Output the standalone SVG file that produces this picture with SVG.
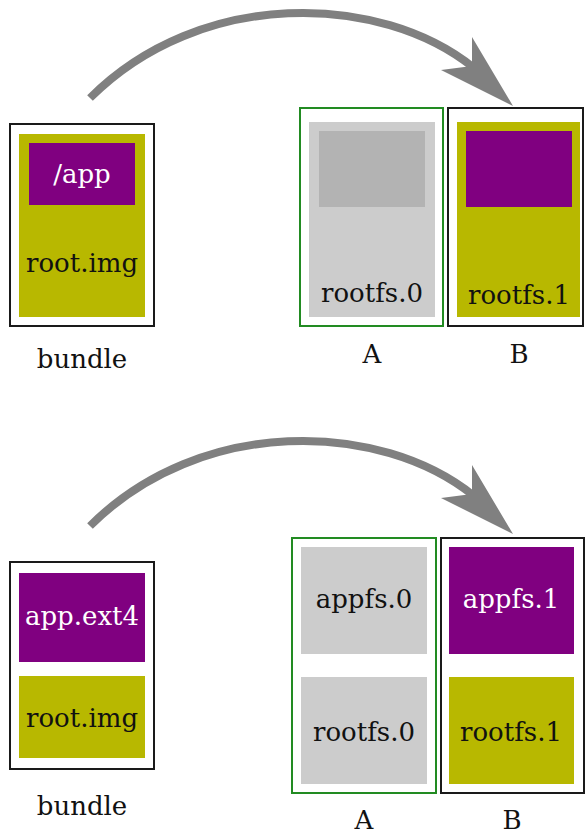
<svg xmlns="http://www.w3.org/2000/svg" width="585" height="834" viewBox="0 0 585 834">
  <style>
    .frame { fill: #ffffff; stroke: #1a1a1a; stroke-width: 2; }
    .slotA { fill: #ffffff; stroke: #228b22; stroke-width: 2; }
    .olive { fill: #b8b800; }
    .purple { fill: #800080; }
    .grey { fill: #cccccc; }
    .grey2 { fill: #b3b3b3; }
    text { font-family: "DejaVu Serif", "Liberation Serif", serif; font-size: 26px; text-anchor: middle; fill: #111111; }
    text.light { fill: #ffffff; }
    .arc { fill: none; stroke: #808080; stroke-width: 8; }
    .head { fill: #808080; }
  </style>
  <defs>
    <!-- curved transfer arrow, bundle to slot B -->
    <g id="transfer">
      <path class="arc" d="M 90 98 C 200 -12, 380 -8, 474 68"/>
      <polygon class="head" points="513,106 472,37 472,66 441,70"/>
    </g>
  </defs>

  <!-- connectors -->
  <g id="connectors">
    <use href="#transfer"/>
    <use href="#transfer" transform="translate(0,428)"/>
  </g>

  <!-- top: single root image -->
  <g id="bundle-top">
    <rect class="frame" x="10" y="124" width="144" height="202"/>
    <rect class="olive" x="19" y="134" width="126" height="183"/>
    <rect class="purple" x="29" y="143" width="106" height="62"/>
    <text class="light" x="82" y="183">/app</text>
    <text x="82" y="272">root.img</text>
    <text x="82" y="368">bundle</text>
  </g>

  <g id="slot-a-top">
    <rect class="slotA" x="300" y="108" width="143" height="218"/>
    <rect class="grey" x="309" y="122" width="126" height="195"/>
    <rect class="grey2" x="319" y="131" width="106" height="76"/>
    <text x="372" y="302">rootfs.0</text>
    <text x="372" y="363">A</text>
  </g>

  <g id="slot-b-top">
    <rect class="frame" x="448" y="108" width="135" height="218"/>
    <rect class="olive" x="457" y="122" width="123" height="195"/>
    <rect class="purple" x="466" y="131" width="106" height="76"/>
    <text x="519" y="304">rootfs.1</text>
    <text x="519" y="363">B</text>
  </g>

  <!-- bottom: separate app partition -->
  <g id="bundle-bottom">
    <rect class="frame" x="10" y="562" width="144" height="207"/>
    <rect class="purple" x="19" y="573" width="126" height="89"/>
    <text class="light" x="82" y="625">app.ext4</text>
    <rect class="olive" x="19" y="676" width="126" height="82"/>
    <text x="82" y="727">root.img</text>
    <text x="82" y="815">bundle</text>
  </g>

  <g id="slot-a-bottom">
    <rect class="slotA" x="292" y="538" width="144" height="255"/>
    <rect class="grey" x="301" y="547" width="126" height="107"/>
    <text x="364" y="608">appfs.0</text>
    <rect class="grey" x="301" y="677" width="126" height="107"/>
    <text x="364" y="741">rootfs.0</text>
    <text x="364" y="829">A</text>
  </g>

  <g id="slot-b-bottom">
    <rect class="frame" x="441" y="538" width="143" height="255"/>
    <rect class="purple" x="449" y="547" width="125" height="107"/>
    <text class="light" x="511" y="608">appfs.1</text>
    <rect class="olive" x="449" y="677" width="125" height="107"/>
    <text x="511" y="741">rootfs.1</text>
    <text x="512" y="829">B</text>
  </g>
</svg>
